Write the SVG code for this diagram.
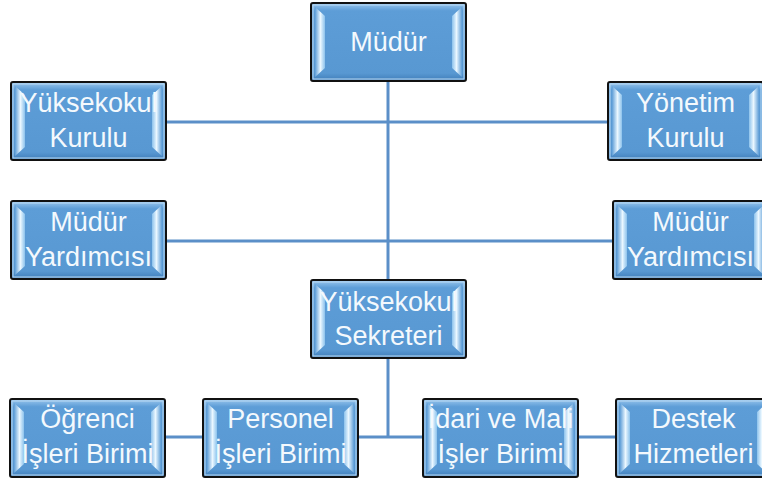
<svg xmlns="http://www.w3.org/2000/svg" xmlns:xlink="http://www.w3.org/1999/xlink" width="762" height="481" viewBox="0 0 762 481">
<style>
.lbl{font-family:"Liberation Sans",Arial,sans-serif;font-size:27px;fill:#f4f9fd;text-anchor:middle}
.con{stroke:#5b8fc8;stroke-width:3;fill:none}
</style>
<defs>
<linearGradient id="body" x1="0" y1="0" x2="0" y2="1">
<stop offset="0" stop-color="#9cc8ee"/>
<stop offset="0.1" stop-color="#5d9dd7"/>
<stop offset="0.9" stop-color="#5898d2"/>
<stop offset="1" stop-color="#3f7cb8"/>
</linearGradient>
<linearGradient id="bevL" x1="0" y1="0" x2="1" y2="0">
<stop offset="0" stop-color="#5d9dd7"/>
<stop offset="0.55" stop-color="#eaf7ff"/>
<stop offset="1" stop-color="#8cc2ec"/>
</linearGradient>
<linearGradient id="bevR" x1="1" y1="0" x2="0" y2="0">
<stop offset="0" stop-color="#5d9dd7"/>
<stop offset="0.55" stop-color="#eaf7ff"/>
<stop offset="1" stop-color="#8cc2ec"/>
</linearGradient>
<g id="box">
<rect x="1" y="1" width="155" height="78" rx="2" fill="url(#body)" stroke="#111" stroke-width="2"/>
<rect x="3" y="3" width="151" height="74" fill="none" stroke="#b9d9f3" stroke-width="1"/>
<polygon points="5,5 15,14 15,66 5,75" fill="url(#bevL)"/>
<polygon points="152,5 142,14 142,66 152,75" fill="url(#bevR)"/>
</g>
</defs>
<g id="connectors">
<line class="con" x1="388" y1="81" x2="388" y2="279"/>
<line class="con" x1="388" y1="359" x2="388" y2="438"/>
<line class="con" x1="166" y1="122" x2="608" y2="122"/>
<line class="con" x1="166" y1="241" x2="613" y2="241"/>
<line class="con" x1="164" y1="437" x2="616" y2="437"/>
</g>
<g id="mudur"><use xlink:href="#box" x="310" y="2"/><text class="lbl" x="388.5" y="51">Müdür</text></g>
<g id="yuksekokul-kurulu"><use xlink:href="#box" x="10" y="81"/><text class="lbl" x="88.5" y="112">Yüksekokul</text><text class="lbl" x="88.5" y="147">Kurulu</text></g>
<g id="yonetim-kurulu"><use xlink:href="#box" x="607" y="81"/><text class="lbl" x="685.5" y="112">Yönetim</text><text class="lbl" x="685.5" y="147">Kurulu</text></g>
<g id="mudur-yardimcisi-1"><use xlink:href="#box" x="10" y="200"/><text class="lbl" x="88.5" y="231">Müdür</text><text class="lbl" x="88.5" y="266">Yardımcısı</text></g>
<g id="mudur-yardimcisi-2"><use xlink:href="#box" x="612" y="200"/><text class="lbl" x="690.5" y="231">Müdür</text><text class="lbl" x="690.5" y="266">Yardımcısı</text></g>
<g id="sekreter"><use xlink:href="#box" x="310" y="279"/><text class="lbl" x="388.5" y="311">Yüksekokul</text><text class="lbl" x="388.5" y="345">Sekreteri</text></g>
<g id="ogrenci"><use xlink:href="#box" x="9" y="398"/><text class="lbl" x="87.5" y="428">Öğrenci</text><text class="lbl" x="87.5" y="463">İşleri Birimi</text></g>
<g id="personel"><use xlink:href="#box" x="202" y="398"/><text class="lbl" x="280.5" y="428">Personel</text><text class="lbl" x="280.5" y="463">İşleri Birimi</text></g>
<g id="idari"><use xlink:href="#box" x="422" y="398"/><text class="lbl" x="500.5" y="428">İdari ve Mali</text><text class="lbl" x="500.5" y="463">İşler Birimi</text></g>
<g id="destek"><use xlink:href="#box" x="615" y="398"/><text class="lbl" x="693.5" y="428">Destek</text><text class="lbl" x="693.5" y="463">Hizmetleri</text></g>
</svg>
